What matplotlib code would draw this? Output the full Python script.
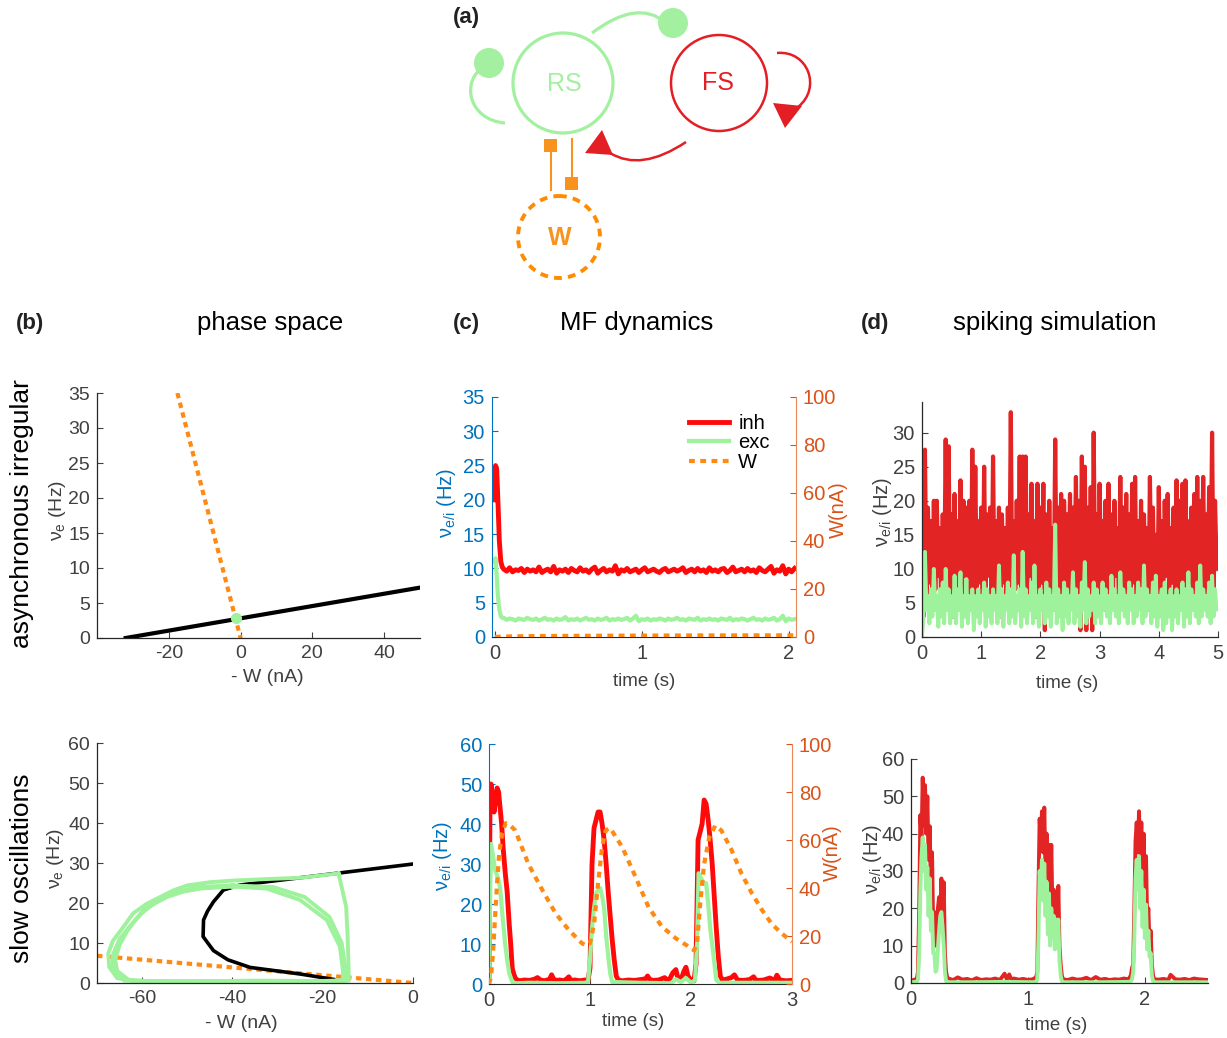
import numpy as np
import matplotlib.pyplot as plt
from matplotlib.patches import Circle, PathPatch, Polygon, Rectangle
from matplotlib.path import Path

plt.rcParams['font.family'] = ['Liberation Sans', 'DejaVu Sans']
plt.rcParams['mathtext.default'] = 'regular'
plt.rcParams['axes.unicode_minus'] = False

W_PX, H_PX = 1227, 1038

GREEN = '#9ef29b'
GREEN_A = '#a3f0a0'
RED = '#ff0a0a'
RED_A = '#e31e24'
RED_SPK = '#e32424'
ORANGE = '#ff8a12'
ORANGE_A = '#f7931e'
BLUE = '#0072bd'
RORANGE = '#d95319'
GREY = '#404040'

# ---------------- data ----------------
# (b) phase space, asynchronous irregular
ai_null_x = [-32, 50]
ai_null_y = [0, 7.2]
ai_wnull_x = [-17.6, 0]
ai_wnull_y = [35, 0]
ai_fixed = (-1.2, 2.8)

# (b) phase space, slow oscillations
so_null_x = [-17.6, -25.0, -36.1, -41.0, -44.2, -46.5, -46.4, -45.5, -44.2, -42.0, -38.3, -20.0, 0.0]
so_null_y = [0.9, 2.25, 3.9, 5.8, 8.1, 11.6, 15.75, 18.0, 20.3, 23.25, 24.5, 27.0, 29.75]
so_wnull_x = [-70, 0]
so_wnull_y = [6.8, 0]
loop1_x = [-16.5, -15.6, -14.8, -14.5, -14.3, -14.2, -16, -25, -35, -45, -55, -62, -65.5, -67.3, -67.5,
           -66.5, -64.5, -62, -59, -56, -53, -50, -45, -40, -32, -25, -16.5]
loop1_y = [27.4, 23, 19, 12, 5, 0.6, 0.4, 0.5, 0.3, 0.5, 0.4, 0.5, 1.2, 4, 7.4,
           10.5, 13.5, 17.4, 19.8, 21.5, 23.2, 24.4, 25.2, 25.6, 26.0, 26.3, 27.4]
loop2_x = [-39.8, -32.4, -25, -19.1, -16.2, -15.5, -15.5, -18, -30, -45, -58, -63, -65.5, -66, -65,
           -63.4, -61.5, -59.7, -57, -54.5, -51, -47.2, -39.8]
loop2_y = [24.1, 23.6, 20.75, 15.75, 9.1, 3, 0.8, 0.3, 0.4, 0.2, 0.4, 0.8, 3, 5.75, 9.5,
           12.8, 15.8, 18.25, 20, 21.5, 22.8, 23.6, 24.1]
loop3_x = [-40, -31, -24, -18.5, -15.8, -15.0, -15.0, -20, -35, -50, -64, -66.5, -66.5, -65,
           -62.5, -60, -57, -53, -48, -40]
loop3_y = [24.4, 24.0, 21.5, 16.5, 10, 4, 0.7, 0.5, 0.6, 0.4, 0.6, 4, 7, 11,
           14.5, 17.5, 20.3, 22.5, 24.0, 24.4]

# (c) mean-field, asynchronous irregular
mf_ai_t0 = [0, 0.004, 0.012, 0.02, 0.03, 0.04, 0.05]
mf_ai_inh0 = [20, 25, 24.5, 20, 14, 11, 10.2]
mf_ai_exc0 = [11, 11.5, 9, 6, 4, 3, 2.8]
mf_ai_inh = [9.9, 9.6, 10.1, 9.5, 9.8, 9.7, 10.0, 9.4, 9.9, 9.6,
             9.8, 9.5, 10.2, 9.4, 9.7, 9.9, 9.5, 10.3, 9.3, 9.8,
             9.6, 9.9, 9.4, 10.0, 9.7, 9.5, 10.1, 9.6, 9.8, 9.4,
             9.9, 10.2, 9.3, 9.7, 10.0, 9.5, 9.8, 9.6, 10.4, 9.2,
             9.8, 9.6, 10.0, 9.5, 9.7, 9.9, 9.4, 9.8, 10.1, 9.5,
             9.7, 9.9, 9.6, 9.4, 9.8, 10.0, 9.5, 9.7, 9.9, 9.6,
             9.8, 10.1, 9.4, 9.7, 9.9, 9.5, 10.0, 9.6, 9.8, 9.4,
             10.1, 9.6, 9.8, 9.5, 9.9, 10.0, 9.4, 9.7, 10.2, 9.5,
             9.7, 9.9, 9.5, 10.0, 9.6, 9.8, 9.4, 10.1, 9.7, 9.5,
             9.9, 10.3, 9.3, 9.8, 9.6, 10.4, 9.2, 9.9, 9.5, 10.0]
mf_ai_exc = [2.8, 2.5, 2.7, 2.6, 2.4, 2.7, 2.6, 2.5, 2.8, 2.6,
             2.5, 2.7, 2.4, 2.6, 2.8, 2.5, 2.6, 2.4, 2.7, 2.5,
             2.6, 2.9, 2.4, 2.6, 2.5, 2.7, 2.4, 2.6, 2.8, 2.5,
             2.6, 2.4, 2.7, 2.5, 2.6, 2.8, 2.4, 2.6, 2.5, 2.7,
             2.5, 2.6, 2.8, 2.4, 2.7, 3.1, 2.3, 2.6, 2.5, 2.7,
             2.4, 2.6, 2.5, 2.7, 2.6, 2.4, 2.7, 2.5, 2.6, 2.8,
             2.5, 2.6, 2.4, 2.7, 2.6, 2.5, 2.8, 2.4, 2.6, 2.5,
             2.7, 2.5, 2.6, 2.4, 2.7, 2.6, 2.5, 2.8, 2.4, 2.6,
             2.5, 2.7, 2.6, 2.4, 2.6, 2.8, 2.5, 2.6, 2.4, 2.7,
             2.5, 2.6, 2.8, 2.4, 2.6, 3.1, 2.3, 2.7, 2.5, 2.6]
mf_ai_w_t = [0, 0.05, 0.3, 0.8, 1.4, 2.05]
mf_ai_w = [0, 0.2, 0.4, 0.55, 0.65, 0.7]

# (c) mean-field, slow oscillations
mf_so_inh_t = [0, 0.01, 0.02, 0.035, 0.05, 0.065, 0.08, 0.095, 0.11, 0.125, 0.14, 0.16, 0.18, 0.20, 0.215,
               0.23, 0.245, 0.26, 0.28, 0.30, 0.35, 0.40, 0.45, 0.48, 0.51, 0.55, 0.60, 0.62, 0.64, 0.67,
               0.70, 0.74, 0.77, 0.79, 0.81, 0.85, 0.90, 0.95, 0.98, 1.00, 1.02, 1.04, 1.06, 1.08, 1.10,
               1.12, 1.14, 1.16, 1.18, 1.20, 1.22, 1.24, 1.26, 1.28, 1.32, 1.38, 1.44, 1.50, 1.55, 1.57,
               1.59, 1.62, 1.68, 1.74, 1.76, 1.78, 1.82, 1.85, 1.87, 1.90, 1.93, 1.95, 1.97, 2.00, 2.03,
               2.05, 2.07, 2.09, 2.11, 2.13, 2.15, 2.17, 2.19, 2.21, 2.23, 2.25, 2.27, 2.29, 2.31, 2.35,
               2.40, 2.43, 2.46, 2.52, 2.58, 2.62, 2.64, 2.67, 2.72, 2.78, 2.83, 2.85, 2.88, 2.94, 3.0]
mf_so_inh = [2, 45, 50, 47, 43, 46, 49, 48, 44, 40, 34, 28, 23, 15, 10,
             4, 2.5, 1.5, 1.0, 0.8, 1.0, 0.9, 1.2, 1.6, 1.0, 0.8, 1.2, 2.3, 1.2, 0.9,
             1.0, 0.8, 1.3, 1.8, 0.9, 1.0, 0.8, 1.0, 0.9, 4, 30, 39, 41, 43, 43,
             40, 36, 30, 23, 17, 11, 6, 2, 1, 0.8, 1.0, 0.9, 1.1, 1.3, 2.0,
             1.2, 0.9, 1.0, 1.6, 1.0, 0.8, 2.8, 3.6, 1.5, 1.0, 3.2, 4.2, 2.0, 0.9, 0.8,
             5, 36, 38, 40, 46, 45, 41, 36, 30, 22, 14, 7, 2, 1, 1.2,
             1.6, 2.3, 1.0, 0.9, 1.1, 1.8, 1.0, 0.9, 1.0, 1.5, 0.9, 2.2, 1.0, 0.8, 0.9]
mf_so_exc_t = [0, 0.01, 0.02, 0.04, 0.06, 0.09, 0.11, 0.13, 0.16, 0.18, 0.20, 0.23, 0.26, 0.4, 0.7,
               0.95, 0.98, 1.00, 1.02, 1.04, 1.06, 1.08, 1.10, 1.12, 1.14, 1.16, 1.18, 1.20, 1.22, 1.5,
               1.8, 1.85, 1.9, 1.95, 2.0, 2.04, 2.06, 2.075, 2.09, 2.11, 2.13, 2.15, 2.17, 2.19, 2.22,
               2.25, 2.28, 2.6, 3.0]
mf_so_exc = [1, 20, 35, 32, 28.5, 26.5, 24, 18, 10, 6, 2.7, 0.5, 0.2, 0.3, 0.2,
             0.3, 0.5, 6, 14, 19, 22.7, 23.5, 24, 22, 19, 12, 7, 2.7, 0.5, 0.3,
             0.2, 1.2, 0.5, 1.5, 0.3, 1, 10, 27.7, 27, 26, 25, 25.2, 20, 14, 7.7,
             1, 0.3, 0.3, 0.3]
mf_so_w_t = [0, 0.02, 0.04, 0.06, 0.08, 0.10, 0.13, 0.165, 0.2, 0.26, 0.39, 0.53, 0.66, 0.79, 0.92,
             0.96, 1.0, 1.04, 1.08, 1.12, 1.155, 1.2, 1.32, 1.45, 1.58, 1.71, 1.85, 1.98, 2.03,
             2.06, 2.09, 2.13, 2.18, 2.24, 2.3, 2.4, 2.5, 2.6, 2.7, 2.8, 2.9, 3.0]
mf_so_w = [0, 3, 13, 28, 42, 54, 63, 67, 66.5, 64, 50, 39, 29.4, 22.5, 17,
           16, 17, 25, 42, 57, 64, 65, 57, 44.7, 32, 24, 19, 15.5, 14,
           17, 33, 50, 61, 66, 64, 56, 46, 38, 31, 25, 21, 17.6]

# (d) spiking simulation, asynchronous irregular (bin 25 ms)
sp_ai_inh = [25, 3, 27.5, 6, 19, 8, 17, 5, 20, 7,
             20, 9, 16, 4, 18, 7, 29, 6, 28, 5,
             18, 3, 21, 8, 17, 6, 23, 5, 20, 9,
             19, 4, 20, 6, 27.5, 5, 25, 7, 17, 8,
             19, 5, 25, 6, 18, 9, 19, 4, 26.5, 6,
             17, 7, 19, 3, 18, 8, 16, 5, 19, 6,
             33, 5, 17, 7, 20, 8, 26.5, 4, 26.5, 6,
             26.5, 5, 18, 9, 22.5, 7, 17, 3, 22.5, 6,
             19, 8, 22.5, 1, 18, 5, 20, 7, 16, 4,
             29, 6, 19, 5, 21, 3, 20, 8, 18, 6,
             21, 5, 19, 7, 23.5, 4, 20, 1, 26.5, 6,
             25, 1, 19, 6, 22, 1, 30, 7, 18, 5,
             22.5, 8, 17, 4, 20, 6, 22.5, 7, 18, 5,
             20, 9, 16, 6, 23.5, 5, 19, 7, 21, 4,
             18, 6, 22.5, 8, 23.5, 5, 17, 6, 20, 9,
             18, 7, 16, 4, 23.5, 6, 19, 8, 15, 5,
             22, 7, 17, 5, 20, 9, 21, 6, 16, 8,
             19, 5, 23, 4, 20, 7, 22.5, 6, 23, 5,
             17, 8, 19, 5, 21, 7, 23.5, 4, 20, 6,
             23.5, 7, 18, 5, 22, 8, 30, 6, 20, 11,
             10]
sp_ai_exc = [0, 3, 12.5, 4, 6, 2, 7, 3, 10, 4,
             6, 1.5, 7, 3, 8, 2, 10, 4, 7, 2,
             6, 3, 9, 2, 7, 4, 9.5, 1.5, 6, 3,
             8.5, 2, 6, 4, 7, 1, 6, 3, 7, 2,
             6, 4, 8, 1.5, 7, 3, 6, 2, 7, 4,
             6, 2, 10.5, 3, 7, 1.5, 6, 4, 8, 2,
             7, 3, 12, 2, 6, 4, 7, 1.5, 12.5, 3,
             7, 2, 6, 4, 8, 2, 10.5, 3, 6, 1.5,
             7, 4, 6, 2, 8, 3, 7, 1.5, 6, 4,
             16.5, 2, 7, 3, 6, 1, 8, 3, 7, 2,
             6, 4, 9.5, 2, 7, 3, 6, 1.5, 8, 4,
             11, 2, 7, 3, 6, 4, 8, 2, 7, 3,
             6, 2, 8, 4, 7, 3, 6, 2, 9, 4,
             7, 3, 6, 2, 9.5, 4, 7, 3, 6, 2,
             8, 4, 7, 2, 6, 3, 8, 4, 7, 2,
             10.5, 3, 7, 4, 6, 2, 8, 3, 9, 1.5,
             6, 3, 7, 1, 8, 2, 6, 3, 7, 1,
             6, 3, 7, 2, 6, 4, 8, 1.5, 7, 3,
             9.5, 2, 7, 4, 6, 3, 8, 2, 10.5, 3,
             7, 4, 6, 3, 8, 2, 9, 3, 7, 4,
             4.5]

# (d) spiking simulation, slow oscillations
sp_so_inh_t = [0, 0.02, 0.04, 0.05,
               0.06, 0.07, 0.08, 0.09, 0.10, 0.11, 0.12, 0.13, 0.14, 0.15, 0.16, 0.17, 0.18, 0.19, 0.20,
               0.21, 0.22, 0.23, 0.24, 0.25, 0.26, 0.27, 0.28, 0.29, 0.30, 0.31,
               0.32, 0.36, 0.40, 0.44, 0.48, 0.52, 0.56, 0.60, 0.64, 0.68, 0.72, 0.76, 0.80, 0.82, 0.84,
               0.86, 0.88, 0.92, 0.96, 1.00, 1.04, 1.07,
               1.08, 1.09, 1.10, 1.11, 1.12, 1.13, 1.14, 1.15, 1.16, 1.17, 1.18, 1.19, 1.20, 1.21, 1.22,
               1.23, 1.24, 1.25, 1.26, 1.27, 1.28, 1.29, 1.30,
               1.34, 1.38, 1.42, 1.46, 1.50, 1.54, 1.58, 1.62, 1.66, 1.70, 1.74, 1.78, 1.82, 1.86,
               1.88, 1.89, 1.90, 1.91, 1.92, 1.93, 1.94, 1.95, 1.96, 1.97, 1.98, 1.99, 2.00, 2.01, 2.02,
               2.03, 2.04, 2.05, 2.06, 2.07, 2.08,
               2.12, 2.16, 2.20, 2.22, 2.26, 2.30, 2.34, 2.38, 2.42, 2.46, 2.50, 2.54]
sp_so_inh = [0.5, 0.8, 1.0, 1.2,
             3, 20, 45, 38, 55, 42, 53, 40, 50, 33, 42, 25, 35, 14, 19,
             10, 12, 20, 23, 17, 28, 20, 27, 8, 3, 1.5,
             1.2, 0.8, 1.5, 0.9, 1.1, 0.7, 1.3, 0.8, 1.0, 0.9, 1.2, 0.8, 2.5, 1.0, 2.3,
             0.8, 1.2, 0.9, 1.1, 0.8, 1.0, 1.5,
             3, 25, 44, 38, 46, 35, 47, 30, 40, 28, 37, 24, 37, 18, 25,
             14, 24, 12, 26, 10, 5, 2, 1,
             0.8, 1.2, 0.9, 1.0, 1.4, 0.8, 1.6, 0.9, 1.1, 0.8, 1.0, 0.9, 1.2, 1.0,
             2, 4, 5, 20, 38, 43, 35, 46, 32, 43, 26, 40, 22, 34, 16,
             20, 10, 14, 5, 2, 1,
             0.9, 1.1, 0.8, 2.2, 1.0, 0.9, 1.1, 0.8, 1.2, 1.0, 0.9, 0.8]
sp_so_exc_t = [0, 0.05,
               0.06, 0.07, 0.08, 0.09, 0.10, 0.11, 0.12, 0.13, 0.14, 0.15, 0.16, 0.17, 0.18, 0.19, 0.20,
               0.21, 0.22, 0.23, 0.24, 0.25, 0.26, 0.27, 0.28, 0.29, 0.30, 0.31,
               0.5, 0.8, 1.07,
               1.08, 1.09, 1.10, 1.11, 1.12, 1.13, 1.14, 1.15, 1.16, 1.17, 1.18, 1.19, 1.20, 1.21, 1.22,
               1.23, 1.24, 1.25, 1.26, 1.27, 1.28, 1.29, 1.30,
               1.6, 1.87,
               1.88, 1.89, 1.90, 1.91, 1.92, 1.93, 1.94, 1.95, 1.96, 1.97, 1.98, 1.99, 2.00, 2.01, 2.02,
               2.03, 2.04, 2.05, 2.06, 2.07, 2.08,
               2.3, 2.54]
sp_so_exc = [0.2, 0.3,
             1, 8, 25, 34, 39, 30, 37, 25, 31, 18, 28, 14, 19, 8, 8,
             3, 4, 9, 14, 18, 19, 15, 10, 3, 0.5, 0.2,
             0.2, 0.3, 0.2,
             1, 12, 30, 25, 33, 22, 32, 18, 27, 13, 24, 10, 20, 12, 18,
             9, 17, 10, 17, 6, 2, 0.5, 0.2,
             0.2, 0.3,
             0.5, 1, 3, 12, 28, 33, 25, 34, 20, 30, 15, 25, 12, 21, 9,
             14, 7, 8, 2, 0.5, 0.2,
             0.2, 0.2]

# ---------------- figure ----------------
fig = plt.figure(figsize=(W_PX / 100, H_PX / 100), dpi=100)


def px_axes(x0, y0, x1, y1):
    return fig.add_axes([x0 / W_PX, 1 - y1 / H_PX, (x1 - x0) / W_PX, (y1 - y0) / H_PX])


def ftext(x, y, s, **kw):
    kw.setdefault('ha', 'center')
    kw.setdefault('va', 'center')
    fig.text(x / W_PX, 1 - y / H_PX, s, **kw)


def style(ax, size=14):
    ax.spines['top'].set_visible(False)
    ax.spines['right'].set_visible(False)
    for side in ('left', 'bottom'):
        ax.spines[side].set_color('#262626')
        ax.spines[side].set_linewidth(0.9)
    ax.tick_params(direction='in', length=4, width=0.8, colors=GREY, labelsize=size, pad=5)


# (a) network diagram, drawn in pixel coordinates
dax = fig.add_axes([0, 0, 1, 1])
dax.set_xlim(0, W_PX)
dax.set_ylim(H_PX, 0)
dax.axis('off')
dax.add_patch(Circle((563, 83), 50, fill=False, ec=GREEN_A, lw=2.3))
dax.add_patch(Circle((719, 83), 48, fill=False, ec=RED_A, lw=1.8))
dax.add_patch(Circle((559, 237), 41, fill=False, ec='#ff8c00', lw=2.8, linestyle=(0, (2.0, 1.6))))
dax.add_patch(PathPatch(Path([(592, 33), (637, -1), (665, 22)], [Path.MOVETO, Path.CURVE3, Path.CURVE3]),
                        fill=False, ec=GREEN_A, lw=2.3))
dax.add_patch(PathPatch(Path([(505, 123), (468, 120), (460, 80), (485, 66)],
                             [Path.MOVETO, Path.CURVE4, Path.CURVE4, Path.CURVE4]),
                        fill=False, ec=GREEN_A, lw=2.3))
dax.add_patch(Circle((673, 23), 15, fc=GREEN_A, ec='none'))
dax.add_patch(Circle((489, 63), 15, fc=GREEN_A, ec='none'))
dax.add_patch(PathPatch(Path([(777, 53), (808, 50), (822, 88), (798, 107)],
                             [Path.MOVETO, Path.CURVE4, Path.CURVE4, Path.CURVE4]),
                        fill=False, ec=RED_A, lw=1.8))
dax.add_patch(Polygon([(773, 103), (802, 106), (785, 128)], fc=RED_A, ec='none'))
dax.add_patch(PathPatch(Path([(686, 142), (641, 172), (610, 153)], [Path.MOVETO, Path.CURVE3, Path.CURVE3]),
                        fill=False, ec=RED_A, lw=1.8))
dax.add_patch(Polygon([(585, 153), (602, 130), (613, 155)], fc=RED_A, ec='none'))
dax.plot([551, 551], [150, 190], color=ORANGE_A, lw=1.5)
dax.add_patch(Rectangle((544, 139), 13, 13, fc=ORANGE_A, ec='none'))
dax.plot([572, 572], [139, 177], color=ORANGE_A, lw=1.5)
dax.add_patch(Rectangle((565, 177), 13, 13, fc=ORANGE_A, ec='none'))
dax.text(564, 84, 'RS', color=GREEN_A, fontsize=18, ha='center', va='center')
dax.text(718, 83, 'FS', color=RED_A, fontsize=18, ha='center', va='center')
dax.text(560, 238, 'W', color=ORANGE_A, fontsize=18, fontweight='bold', ha='center', va='center')

# panel letters, titles, row labels
ftext(466, 18, '(a)', fontsize=16, fontweight='bold', color='#222222')
ftext(30, 324, '(b)', fontsize=16, fontweight='bold', color='#222222')
ftext(466, 324, '(c)', fontsize=16, fontweight='bold', color='#222222')
ftext(875, 324, '(d)', fontsize=16, fontweight='bold', color='#222222')
ftext(270, 323, 'phase space', fontsize=18.5)
ftext(637, 323, 'MF dynamics', fontsize=18.5)
ftext(1055, 323, 'spiking simulation', fontsize=18.5)
ftext(22, 514, 'asynchronous irregular', fontsize=19, rotation=90)
ftext(22, 868, 'slow oscillations', fontsize=19, rotation=90)

# (b) top
ax = px_axes(97, 393, 420, 638)
style(ax)
ax.plot(ai_null_x, ai_null_y, color='black', lw=3)
ax.plot(ai_wnull_x, ai_wnull_y, color=ORANGE, lw=3, dashes=(1.3, 1.1))
ax.plot(*ai_fixed, marker='o', ms=7, mfc=GREEN, mec=GREEN, ls='none')
ax.set_xlim(-40, 50)
ax.set_ylim(0, 35)
ax.set_xticks([-20, 0, 20, 40])
ax.set_yticks(range(0, 36, 5))
ftext(58, 510, 'ν$_e$ (Hz)', fontsize=14, rotation=90, color=GREY)
ftext(267, 677, '- W (nA)', fontsize=14, color=GREY)

# (b) bottom
ax = px_axes(97, 743, 413, 983)
style(ax)
for lx, ly in ((loop1_x, loop1_y), (loop2_x, loop2_y), (loop3_x, loop3_y)):
    ax.plot(lx, ly, color=GREEN, lw=2.8, solid_joinstyle='round')
ax.plot(so_null_x, so_null_y, color='black', lw=2.6, zorder=1.9)
ax.plot(so_wnull_x, so_wnull_y, color=ORANGE, lw=3, dashes=(1.3, 1.1), zorder=1.8)
ax.set_xlim(-70, 0)
ax.set_ylim(0, 60)
ax.set_xticks([-60, -40, -20, 0])
ax.set_yticks(range(0, 61, 10))
ftext(55, 858, 'ν$_e$ (Hz)', fontsize=14, rotation=90, color=GREY)
ftext(241, 1024, '- W (nA)', fontsize=14, color=GREY)


def mf_axes(box, ylim, xlim, xticks, yticks):
    ax = px_axes(*box)
    ax.spines['top'].set_visible(False)
    ax.spines['right'].set_visible(False)
    ax.spines['left'].set_color(BLUE)
    ax.spines['bottom'].set_color('#262626')
    ax.tick_params(direction='in', length=4, width=0.8, labelsize=14.5, pad=5)
    ax.tick_params(axis='y', colors=BLUE)
    ax.tick_params(axis='x', colors=GREY)
    ax.set_xlim(*xlim)
    ax.set_ylim(*ylim)
    ax.set_xticks(xticks)
    ax.set_yticks(yticks)
    ax2 = ax.twinx()
    for side in ('top', 'left', 'bottom'):
        ax2.spines[side].set_visible(False)
    ax2.spines['right'].set_color('#e8875a')
    ax2.tick_params(direction='in', length=4, width=0.8, labelsize=14.5, pad=5, colors=RORANGE)
    ax2.set_ylim(0, 100)
    ax2.set_yticks(range(0, 101, 20))
    return ax, ax2


# (c) top
ax, ax2 = mf_axes((492, 397, 796, 637), (0, 35), (-0.02, 2.05), [0, 1, 2], range(0, 36, 5))
t_ai = np.concatenate([mf_ai_t0, np.arange(len(mf_ai_inh)) * 0.02 + 0.06])
h_inh, = ax.plot(t_ai, mf_ai_inh0 + mf_ai_inh, color=RED, lw=3.5, label='inh')
h_exc, = ax.plot(t_ai, mf_ai_exc0 + mf_ai_exc, color=GREEN, lw=3, label='exc')
h_w, = ax2.plot(mf_ai_w_t, mf_ai_w, color=ORANGE, lw=3, dashes=(1.4, 1.3), label='W')
ax2.legend(handles=[h_inh, h_exc, h_w], loc='upper left', frameon=False, fontsize=14.5,
           handlelength=2.0, labelspacing=0.02, handletextpad=0.45, borderaxespad=0,
           bbox_to_anchor=(681 / W_PX, 1 - 406 / H_PX), bbox_transform=fig.transFigure)
ftext(446, 503, 'ν$_{e/i}$ (Hz)', fontsize=14.5, rotation=90, color=BLUE)
ftext(838, 510, 'W(nA)', fontsize=14.5, rotation=90, color=RORANGE)
ftext(644, 682, 'time (s)', fontsize=13.5, color=GREY)

# (c) bottom
ax, ax2 = mf_axes((489, 744, 792, 984), (0, 60), (0, 3), [0, 1, 2, 3], range(0, 61, 10))
ax.plot(mf_so_inh_t, mf_so_inh, color=RED, lw=3.5)
ax.plot(mf_so_exc_t, mf_so_exc, color=GREEN, lw=3)
ax2.plot(mf_so_w_t, mf_so_w, color=ORANGE, lw=3, dashes=(1.4, 1.3))
ftext(443, 856, 'ν$_{e/i}$ (Hz)', fontsize=14.5, rotation=90, color=BLUE)
ftext(832, 853, 'W(nA)', fontsize=14.5, rotation=90, color=RORANGE)
ftext(633, 1022, 'time (s)', fontsize=13.5, color=GREY)

# (d) top
ax = px_axes(922, 402, 1218, 637)
style(ax, 14.5)
t_sp = np.arange(len(sp_ai_inh)) * 0.025
ax.plot(t_sp, sp_ai_inh, color=RED_SPK, lw=3)
ax.plot(t_sp, sp_ai_exc, color=GREEN, lw=2.8)
ax.set_xlim(0, 5)
ax.set_ylim(0, 34.5)
ax.set_xticks(range(0, 6))
ax.set_yticks(range(0, 31, 5))
ftext(882, 512, 'ν$_{e/i}$ (Hz)', fontsize=14.5, rotation=90, color=GREY)
ftext(1067, 683, 'time (s)', fontsize=13.5, color=GREY)

# (d) bottom
ax = px_axes(911, 759, 1208, 983)
style(ax, 14.5)
ax.plot(sp_so_inh_t, sp_so_inh, color=RED_SPK, lw=2.8)
ax.plot(sp_so_exc_t, sp_so_exc, color=GREEN, lw=2.8)
ax.set_xlim(0, 2.54)
ax.set_ylim(0, 60)
ax.set_xticks([0, 1, 2])
ax.set_yticks(range(0, 61, 10))
ftext(872, 859, 'ν$_{e/i}$ (Hz)', fontsize=14.5, rotation=90, color=GREY)
ftext(1056, 1025, 'time (s)', fontsize=13.5, color=GREY)

fig.savefig('out.png', dpi=100)
